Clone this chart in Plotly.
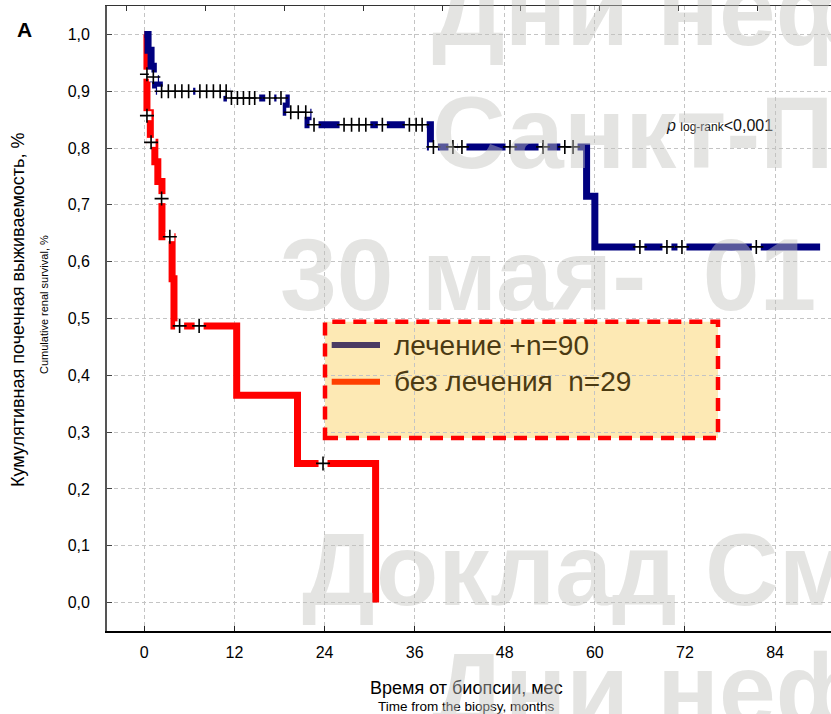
import plotly.graph_objects as go

# ---------------- data ----------------
series_names = ["лечение +n=90", "без лечения  n=29"]

# Kaplan-Meier step curves (time in months, survival fraction)
treated_t = [0, 0.5, 0.9, 1.2, 1.5, 2.0, 11.0, 18.9, 21.8, 38.1, 58.9, 60.0, 90.0]
treated_s = [1.0, 0.972, 0.944, 0.922, 0.911, 0.900, 0.888, 0.863, 0.841, 0.802, 0.715, 0.626, 0.626]

untreated_t = [0, 0.35, 0.8, 1.4, 1.8, 2.35, 3.7, 3.95, 12.3, 20.4, 30.8]
untreated_s = [1.0, 0.862, 0.81, 0.776, 0.741, 0.644, 0.57, 0.487, 0.365, 0.245, 0.0]

# censored observations
treated_cens_t = [1.2, 2.3, 3.2, 4.1, 5.0, 5.9, 7.4, 8.3, 9.2, 10.1, 10.9,
                  11.6, 12.4, 13.2, 14.0, 14.7, 16.7, 18.2,
                  19.5, 20.5, 21.5,
                  22.6, 26.6, 27.6, 28.6, 29.5, 31.7, 35.3, 36.2, 37.0,
                  38.5, 41.1, 42.3, 48.7, 53.1, 56.0, 57.1,
                  66.0, 69.6, 71.6, 81.5]
treated_cens_s = [0.925, 0.90, 0.90, 0.90, 0.90, 0.90, 0.90, 0.90, 0.90, 0.90, 0.90,
                  0.888, 0.888, 0.888, 0.888, 0.888, 0.888, 0.888,
                  0.863, 0.863, 0.863,
                  0.841, 0.841, 0.841, 0.841, 0.841, 0.841, 0.841, 0.841, 0.841,
                  0.802, 0.802, 0.802, 0.802, 0.802, 0.802, 0.802,
                  0.626, 0.626, 0.626, 0.626]

untreated_cens_t = [0.35, 0.35, 0.9, 2.3, 3.4, 4.7, 7.3, 23.8]
untreated_cens_s = [0.93, 0.857, 0.81, 0.711, 0.644, 0.487, 0.487, 0.245]

x_tick_vals = [0, 12, 24, 36, 48, 60, 72, 84]
x_tick_labels = ["0", "12", "24", "36", "48", "60", "72", "84"]
y_tick_vals = [0.0, 0.1, 0.2, 0.3, 0.4, 0.5, 0.6, 0.7, 0.8, 0.9, 1.0]
y_tick_labels = ["0,0", "0,1", "0,2", "0,3", "0,4", "0,5", "0,6", "0,7", "0,8", "0,9", "1,0"]

watermark_rows = ["Дни нефрологии", "Санкт-Петербург", "30 мая-&nbsp; 01", "Доклад Смирнова", "Дни нефрологии"]

# ---------------- styling ----------------
NAVY = "#00007f"
RED = "#ff0000"
FONT = "Liberation Sans, Arial, sans-serif"

W, H = 831, 714
L, R, T, B = 107, 0, 6, 83
PW, PH = W - L - R, H - T - B


def px(xp):
    return (xp - L) / PW


def py(yp):
    return (H - B - yp) / PH


fig = go.Figure()

fig.add_trace(go.Scatter(x=untreated_t, y=untreated_s, mode="lines", line_shape="hv",
                         line=dict(color=RED, width=7), showlegend=False, name=series_names[1]))
fig.add_trace(go.Scatter(x=treated_t, y=treated_s, mode="lines", line_shape="hv",
                         line=dict(color=NAVY, width=7), showlegend=False, name=series_names[0]))

for ct, cs in [(untreated_cens_t, untreated_cens_s), (treated_cens_t, treated_cens_s)]:
    fig.add_trace(go.Scatter(x=ct, y=cs, mode="markers",
                             marker=dict(symbol="square", size=9, color="white",
                                         line=dict(width=0)),
                             showlegend=False, hoverinfo="skip"))
    fig.add_trace(go.Scatter(x=ct, y=cs, mode="markers",
                             marker=dict(symbol="cross-thin", size=10,
                                         line=dict(width=1.6, color="black")),
                             showlegend=False))

# dummy trace to show the top axis
fig.add_trace(go.Scatter(x=[None], y=[None], xaxis="x2", showlegend=False, hoverinfo="skip"))

grid = dict(showgrid=True, gridcolor="#c4c4c4", gridwidth=1, griddash="4px,3px")

fig.update_layout(
    width=W, height=H,
    margin=dict(l=L, r=R, t=T, b=B, autoexpand=False),
    paper_bgcolor="white", plot_bgcolor="white",
    font=dict(family=FONT, color="black"),
    xaxis=dict(range=[-4.97, 91.45], tickvals=x_tick_vals, ticktext=x_tick_labels,
               ticks="inside", ticklen=5, tickcolor="#222", showline=True,
               linecolor="black", linewidth=1.5, zeroline=False, automargin=False,
               tickfont=dict(size=16, color="black"), ticklabelstandoff=6, **grid),
    xaxis2=dict(range=[-4.97, 91.45], overlaying="x", side="top", tick0=-2.34, dtick=10.5,
                ticks="inside", ticklen=5, tickcolor="#333", showline=True,
                linecolor="#333", linewidth=1.2, showticklabels=False, showgrid=False,
                zeroline=False, automargin=False),
    yaxis=dict(range=[-0.05, 1.05], tickvals=y_tick_vals, ticktext=y_tick_labels,
               ticks="inside", ticklen=5, tickcolor="#444", showline=True,
               linecolor="#555", linewidth=1.8, zeroline=False, automargin=False,
               tickfont=dict(size=16, color="black"), ticklabelstandoff=12, **grid),
)

shapes = []
# legend box fill (under gridlines) and dashed red border
box = dict(x0=px(325), x1=px(718), y0=py(438), y1=py(321.7))
shapes.append(dict(type="rect", xref="paper", yref="paper", layer="below",
                   fillcolor="#fde9b4", line=dict(width=0), **box))
shapes.append(dict(type="rect", xref="paper", yref="paper", layer="above",
                   line=dict(color="#ff0000", width=4.5, dash="13px,8px"), **box))
legend_colors = ["#4b3b63", "#ff4000"]
legend_rows_y = [345, 381.7]
for c, yy in zip(legend_colors, legend_rows_y):
    shapes.append(dict(type="line", xref="paper", yref="paper", layer="above",
                       x0=px(331.7), x1=px(380), y0=py(yy), y1=py(yy),
                       line=dict(color=c, width=6)))
fig.update_layout(shapes=shapes)


def label(x, y, text, size, angle=0, xanchor="center", color="black"):
    return dict(xref="paper", yref="paper", x=x, y=y, xanchor=xanchor, yanchor="middle",
                showarrow=False, textangle=angle, text=text,
                font=dict(size=size, color=color, family=FONT))


ann = []
for name, yy in zip(series_names, legend_rows_y):
    ann.append(label(px(392), py(yy), name, 28, xanchor="left", color="#4b3a12"))

ann.append(label(px(664), py(126),
                 "<i>p</i> <span style='font-size:12px'>log-rank</span>&lt;0,001",
                 16, xanchor="left", color="#111"))
ann.append(label(px(24), py(29), "<b>A</b>", 21))
ann.append(label(px(18), py(310), "Кумулятивная почечная выживаемость, %", 18, angle=-90))
ann.append(label(px(44), py(305), "Cumulative renal survival, %", 11, angle=-90))
ann.append(label(px(466), py(688), "Время от биопсии, мес", 18))
ann.append(label(px(466), py(706), "Time from the biopsy, months", 13.5))

# watermark rows (left x, baseline y in pixels)
wm_pos = [(430, 47), (430, 170), (278, 312), (300, 607), (430, 727)]
for txt, (xx, yy) in zip(watermark_rows, wm_pos):
    ann.append(label(px(xx), py(yy - 37), "<b>" + txt + "</b>", 102, xanchor="left",
                     color="rgba(195,195,190,0.45)"))

fig.update_layout(annotations=ann)

fig.write_html("out.html", config={"displayModeBar": False},
               post_script="document.body.style.margin='0px';document.body.style.overflow='hidden';")
